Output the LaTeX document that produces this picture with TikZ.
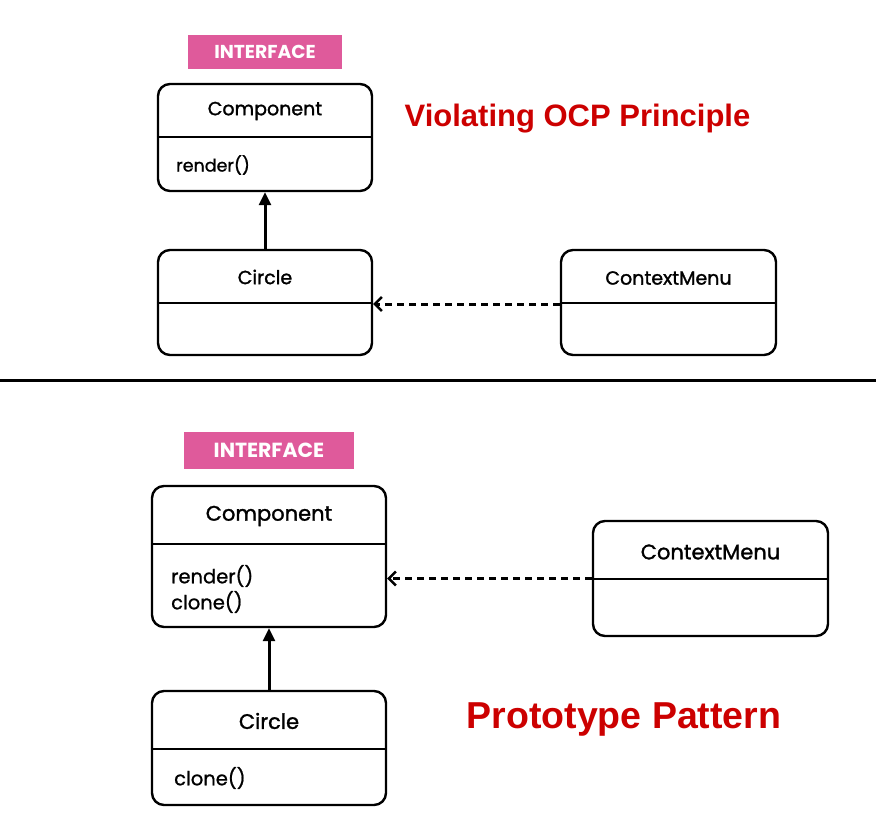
\documentclass[tikz,border=0pt]{standalone}
\usepackage{fontspec}
\setmainfont{Liberation Sans}
\newfontfamily\pop[FakeBold=1.4]{Poppins}
\newfontfamily\popr[FakeBold=1.0]{Poppins}
\newfontfamily\popb{Poppins}
\newfontfamily\arialf{Liberation Sans}
\usetikzlibrary{arrows.meta}
\definecolor{badgepink}{HTML}{DF5A9B}
\definecolor{titlered}{HTML}{CC0000}
\tikzset{
  umlbox/.style={draw=black, line width=2.4pt, rounded corners=12pt, fill=white, inner sep=0pt},
  divider/.style={line width=2.4pt},
  badge/.style={fill=badgepink, text=white, inner sep=0pt},
  cname/.style={inner sep=0pt},
  member/.style={anchor=west, inner sep=0pt},
  inherit/.style={line width=3pt, -{Triangle[length=13pt,width=12pt]}},
  depend/.style={line width=3pt, dash pattern=on 7pt off 5pt, -{Straight Barb[length=7pt,width=14pt,line width=2.5pt]}},
  title/.style={text=titlered, inner sep=0pt}
}
\begin{document}
\begin{tikzpicture}[x=1pt,y=-1pt]
\useasboundingbox (0,0) rectangle (876,840);
% ---------- top part ----------
\node[badge, minimum width=154pt, minimum height=34pt, font=\popb\bfseries\fontsize{18.7}{22}\selectfont] (badge1) at (265,52) {INTERFACE};
\node[umlbox, minimum width=214pt, minimum height=107pt] (comp1) at (265,137.5) {};
\draw[divider] ([yshift=-54pt]comp1.north west) -- ([yshift=-54pt]comp1.north east);
\node[cname, font=\pop\fontsize{19}{22}\selectfont] (comp1n) at (265,111) {Component};
\node[member, font=\popr\fontsize{17.5}{21}\selectfont] (comp1m) at (176,165) {render()};

\node[umlbox, minimum width=214pt, minimum height=105pt] (circ1) at (265,302.5) {};
\draw[divider] ([yshift=-54pt]circ1.north west) -- ([yshift=-54pt]circ1.north east);
\node[cname, font=\pop\fontsize{19}{22}\selectfont] (circ1n) at (265,277) {Circle};

\node[umlbox, minimum width=215pt, minimum height=105pt] (cm1) at (668.5,302.5) {};
\draw[divider] ([yshift=-54pt]cm1.north west) -- ([yshift=-54pt]cm1.north east);
\node[cname, font=\pop\fontsize{19}{22}\selectfont] (cm1n) at (668.5,278) {ContextMenu};

\draw[inherit] (circ1.north) -- (comp1.south);
\draw[depend] ([yshift=-1.5pt]cm1.west) -- ([yshift=-1.5pt]circ1.east);

\node[title, font=\arialf\bfseries\fontsize{31}{36}\selectfont] (t1) at (577.5,119) {Violating OCP Principle};

% separator
\coordinate (sepL) at (0,380);
\coordinate (sepR) at (876,380);
\draw[line width=3pt] (sepL) -- (sepR);

% ---------- bottom part ----------
\node[badge, minimum width=170pt, minimum height=37pt, font=\popb\bfseries\fontsize{20.4}{24}\selectfont] (badge2) at (269,450.5) {INTERFACE};
\node[umlbox, minimum width=234pt, minimum height=141pt] (comp2) at (269,556.5) {};
\draw[divider] ([yshift=-59pt]comp2.north west) -- ([yshift=-59pt]comp2.north east);
\node[cname, font=\pop\fontsize{21}{25}\selectfont] (comp2n) at (269,516) {Component};
\node[member, font=\popr\fontsize{19.5}{23}\selectfont] (comp2m) at (171,576) {render()};
\node[member, font=\popr\fontsize{19.5}{23}\selectfont] (comp2c) at (171,602) {clone()};

\node[umlbox, minimum width=234pt, minimum height=114pt] (circ2) at (269,748) {};
\draw[divider] ([yshift=-59pt]circ2.north west) -- ([yshift=-59pt]circ2.north east);
\node[cname, font=\pop\fontsize{21}{25}\selectfont] (circ2n) at (269,721) {Circle};
\node[member, font=\popr\fontsize{19.5}{23}\selectfont] (circ2c) at (174,778) {clone()};

\node[umlbox, minimum width=235pt, minimum height=115pt] (cm2) at (710.5,578.5) {};
\draw[divider] ([yshift=-59pt]cm2.north west) -- ([yshift=-59pt]cm2.north east);
\node[cname, font=\pop\fontsize{21}{25}\selectfont] (cm2n) at (710.5,552) {ContextMenu};

\draw[inherit] (circ2.north) -- (comp2.south);
\draw[depend] (cm2.west) -- (comp2.east |- cm2.west);

\node[title, font=\arialf\bfseries\fontsize{37.5}{44}\selectfont] (t2) at (624,719) {Prototype Pattern};
\end{tikzpicture}
\end{document}
